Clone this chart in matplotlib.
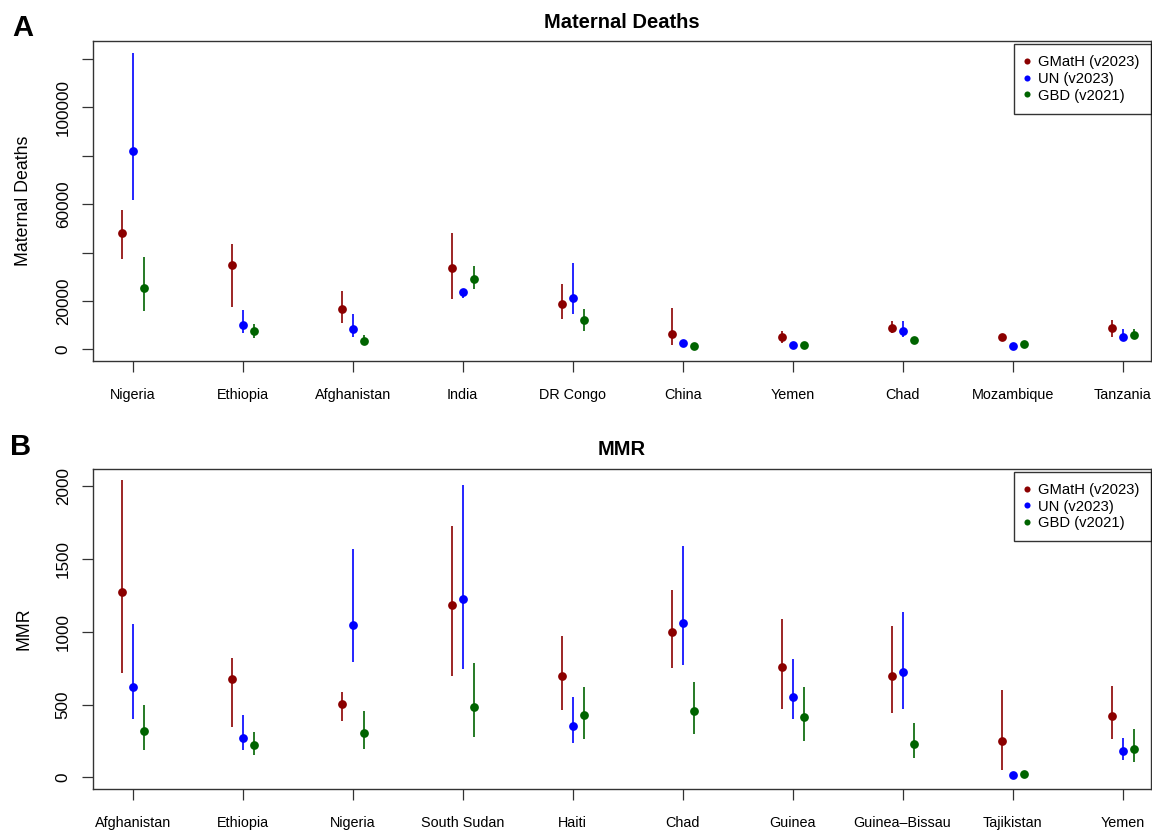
import numpy as np
import matplotlib
matplotlib.use("Agg")
import matplotlib.pyplot as plt

plt.rcParams['font.family'] = ['Liberation Sans', 'DejaVu Sans']

# ----------------------------------------------------------------------
#  Data
# ----------------------------------------------------------------------
deaths_countries = ["Nigeria", "Ethiopia", "Afghanistan", "India", "DR Congo",
                    "China", "Yemen", "Chad", "Mozambique", "Tanzania"]
deaths_gmath = [48200, 34800, 16650, 33500, 18600, 6450, 4960, 8800, 4960, 8800]
deaths_gmath_lo = [37200, 17350, 10740, 20660, 12520, 1900, 2730, 6610, 4200, 5210]
deaths_gmath_hi = [57560, 43510, 23960, 47930, 27110, 17070, 7690, 11820, 5800, 12110]
deaths_un = [81800, 10040, 8510, 23550, 21320, 2600, 1650, 7560, 1240, 5210]
deaths_un_lo = [61690, 6860, 5210, 21320, 14590, 2000, 1300, 5210, 900, 3840]
deaths_un_hi = [122560, 16240, 14590, 25040, 35660, 3200, 2100, 11570, 1600, 8510]
deaths_gbd = [25200, 7440, 3550, 29170, 11980, 1360, 1780, 3720, 2190, 6030]
deaths_gbd_lo = [15950, 4800, 2070, 25040, 7690, 1100, 1400, 3000, 1800, 4380]
deaths_gbd_hi = [38010, 10450, 5780, 34420, 16650, 1650, 2200, 4500, 2700, 8510]

mmr_countries = ["Afghanistan", "Ethiopia", "Nigeria", "South Sudan", "Haiti",
                 "Chad", "Guinea", "Guinea\u2013Bissau", "Tajikistan", "Yemen"]
mmr_gmath = [1276, 674, 502, 1184, 698, 996, 756, 696, 252, 421]
mmr_gmath_lo = [719, 348, 389, 696, 463, 753, 472, 444, 52, 265]
mmr_gmath_hi = [2043, 818, 586, 1727, 973, 1287, 1088, 1038, 602, 628]
mmr_un = [621, 268, 1047, 1223, 350, 1063, 554, 724, 16, 183]
mmr_un_lo = [403, 188, 790, 744, 238, 770, 403, 472, 6, 119]
mmr_un_hi = [1052, 428, 1569, 2009, 552, 1588, 811, 1136, 30, 272]
mmr_gbd = [316, 222, 305, 485, 428, 458, 417, 229, 25, 197]
mmr_gbd_lo = [186, 151, 197, 279, 263, 298, 252, 135, 15, 107]
mmr_gbd_hi = [497, 309, 458, 783, 619, 653, 621, 371, 36, 334]

labels = ["GMatH (v2023)", "UN (v2023)", "GBD (v2021)"]
colors = ["#8B0000", "#0000FF", "#006400"]
offsets = [-0.1, 0.0, 0.1]


def draw_panel(ax, countries, series, ylim, yticks, ylabels, title, ylab):
    x = np.arange(1, len(countries) + 1)
    for (mid, lo, hi), col, off, lab in zip(series, colors, offsets, labels):
        ax.vlines(x + off, lo, hi, color=col, linewidth=1.2)
        ax.plot(x + off, mid, 'o', color=col, markersize=6.3, markeredgewidth=0)
        ax.plot([], [], 'o', color=col, markersize=4.4, markeredgewidth=0, label=lab)
    ax.set_xlim(0.639, 10.257)
    ax.set_ylim(*ylim)
    ax.set_xticks(x)
    ax.set_xticklabels(countries, fontsize=10.4)
    ax.set_yticks(yticks)
    ax.set_yticklabels(ylabels, fontsize=12.3, rotation=90, va='center')
    ax.tick_params(axis='both', direction='out', length=8, width=0.9, color='#333333')
    ax.tick_params(axis='x', pad=11.5)
    ax.tick_params(axis='y', pad=8)
    for s in ax.spines.values():
        s.set_linewidth(1.0)
        s.set_color('#333333')
    ax.set_title(title, fontsize=14.5, fontweight='bold', pad=9.5)
    ax.set_ylabel(ylab, fontsize=12.8, labelpad=17)
    leg = ax.legend(loc='upper right', bbox_to_anchor=(1.0, 0.99), borderaxespad=0,
                    fontsize=10.6, frameon=True, fancybox=False, edgecolor='black',
                    handlelength=0.3, handletextpad=0.6, labelspacing=0.18,
                    borderpad=0.75)
    leg.get_frame().set_linewidth(1.0)


fig = plt.figure(figsize=(11.52, 8.31), dpi=100)
ax1 = fig.add_axes([0.0807, 0.5652, 0.9183, 0.3855])
ax2 = fig.add_axes([0.0807, 0.0505, 0.9183, 0.3855])

draw_panel(ax1, deaths_countries,
           [(deaths_gmath, deaths_gmath_lo, deaths_gmath_hi),
            (deaths_un, deaths_un_lo, deaths_un_hi),
            (deaths_gbd, deaths_gbd_lo, deaths_gbd_hi)],
           (-4960, 127400),
           [0, 20000, 40000, 60000, 80000, 100000, 120000],
           ["0", "20000", "", "60000", "", "100000", ""],
           "Maternal Deaths", "Maternal Deaths")

draw_panel(ax2, mmr_countries,
           [(mmr_gmath, mmr_gmath_lo, mmr_gmath_hi),
            (mmr_un, mmr_un_lo, mmr_un_hi),
            (mmr_gbd, mmr_gbd_lo, mmr_gbd_hi)],
           (-80.4, 2121),
           [0, 500, 1000, 1500, 2000],
           ["0", "500", "1000", "1500", "2000"],
           "MMR", "MMR")

fig.text(0.011, 0.966, "A", fontsize=21, fontweight='bold', va='center', ha='left')
fig.text(0.009, 0.462, "B", fontsize=21, fontweight='bold', va='center', ha='left')

fig.savefig("out.png", dpi=100)
